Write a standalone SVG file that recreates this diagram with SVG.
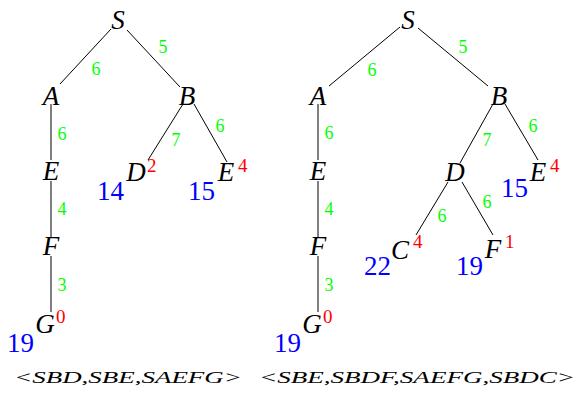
<svg xmlns="http://www.w3.org/2000/svg" width="577" height="394" viewBox="0 0 577 394">
<style>
.n{font-family:"Liberation Serif","DejaVu Serif",serif;font-style:italic;font-size:27px;fill:#000;text-anchor:middle}
.w{font-family:"Liberation Serif","DejaVu Serif",serif;font-size:18px;fill:#00ff00;text-anchor:middle}
.h{font-family:"Liberation Serif","DejaVu Serif",serif;font-size:19px;fill:#ff0000}
.g{font-family:"Liberation Serif","DejaVu Serif",serif;font-size:27px;fill:#0000ff}
.c{font-family:"Liberation Serif","DejaVu Serif",serif;font-style:italic;font-size:17px;fill:#000}
.e{stroke:#000;stroke-width:1;fill:none}
</style>
<rect width="577" height="394" fill="#fff"/>
<g id="connectors">
  <line class="e" x1="111" y1="29" x2="60" y2="84"/>
  <line class="e" x1="127" y1="30" x2="180" y2="87"/>
  <line class="e" x1="51" y1="104" x2="51" y2="160"/>
  <line class="e" x1="51" y1="181" x2="51" y2="237"/>
  <line class="e" x1="51" y1="256" x2="51" y2="312"/>
  <line class="e" x1="183" y1="104" x2="148" y2="160"/>
  <line class="e" x1="194" y1="104" x2="227" y2="162"/>
  <line class="e" x1="400" y1="27" x2="329" y2="86"/>
  <line class="e" x1="418" y1="28" x2="488" y2="86"/>
  <line class="e" x1="318" y1="104" x2="318" y2="160"/>
  <line class="e" x1="318" y1="181" x2="318" y2="237"/>
  <line class="e" x1="318" y1="256" x2="318" y2="312"/>
  <line class="e" x1="493" y1="104" x2="460" y2="163"/>
  <line class="e" x1="505" y1="104" x2="538" y2="160"/>
  <line class="e" x1="448" y1="182" x2="416" y2="235"/>
  <line class="e" x1="462" y1="182" x2="493" y2="235"/>
  <g id="weights">
    <text class="w" x="163" y="53">5</text>
    <text class="w" x="96" y="75">6</text>
    <text class="w" x="62" y="140">6</text>
    <text class="w" x="176" y="146">7</text>
    <text class="w" x="220" y="132">6</text>
    <text class="w" x="62" y="215">4</text>
    <text class="w" x="62" y="291">3</text>
    <text class="w" x="463" y="53">5</text>
    <text class="w" x="372" y="76">6</text>
    <text class="w" x="329" y="139">6</text>
    <text class="w" x="487" y="146">7</text>
    <text class="w" x="533" y="132">6</text>
    <text class="w" x="487" y="208">6</text>
    <text class="w" x="442" y="222">6</text>
    <text class="w" x="329" y="215">4</text>
    <text class="w" x="329" y="291">3</text>
  </g>
</g>
<g id="L-S"><text class="n" x="118" y="29">S</text></g>
<g id="L-A"><text class="n" x="51" y="105">A</text></g>
<g id="L-B"><text class="n" x="187" y="105">B</text></g>
<g id="L-E"><text class="n" x="51" y="180">E</text></g>
<g id="L-D"><text class="n" x="136" y="181">D</text><text class="h" x="147" y="172">2</text><text class="g" x="97" y="200">14</text></g>
<g id="L-E2"><text class="n" x="226" y="181">E</text><text class="h" x="238" y="172">4</text><text class="g" x="188" y="200">15</text></g>
<g id="L-F"><text class="n" x="51" y="255">F</text></g>
<g id="L-G"><text class="n" x="45" y="333">G</text><text class="h" x="56" y="323">0</text><text class="g" x="7" y="352">19</text></g>
<g id="R-S"><text class="n" x="408" y="29">S</text></g>
<g id="R-A"><text class="n" x="318" y="105">A</text></g>
<g id="R-B"><text class="n" x="499" y="105">B</text></g>
<g id="R-E"><text class="n" x="318" y="180">E</text></g>
<g id="R-D"><text class="n" x="455" y="181">D</text></g>
<g id="R-E2"><text class="n" x="538" y="181">E</text><text class="h" x="550" y="172">4</text><text class="g" x="501" y="197">15</text></g>
<g id="R-C"><text class="n" x="400" y="259">C</text><text class="h" x="413" y="248">4</text><text class="g" x="364" y="275">22</text></g>
<g id="R-F2"><text class="n" x="493" y="258">F</text><text class="h" x="505" y="248">1</text><text class="g" x="456" y="275">19</text></g>
<g id="R-F"><text class="n" x="318" y="255">F</text></g>
<g id="R-G"><text class="n" x="312" y="333">G</text><text class="h" x="323" y="323">0</text><text class="g" x="274" y="352">19</text></g>
<g id="captions">
  <text class="c" x="14" y="383" textLength="228" lengthAdjust="spacingAndGlyphs">&lt;SBD,SBE,SAEFG&gt;</text>
  <text class="c" x="259" y="383" textLength="316" lengthAdjust="spacingAndGlyphs">&lt;SBE,SBDF,SAEFG,SBDC&gt;</text>
</g>
</svg>
